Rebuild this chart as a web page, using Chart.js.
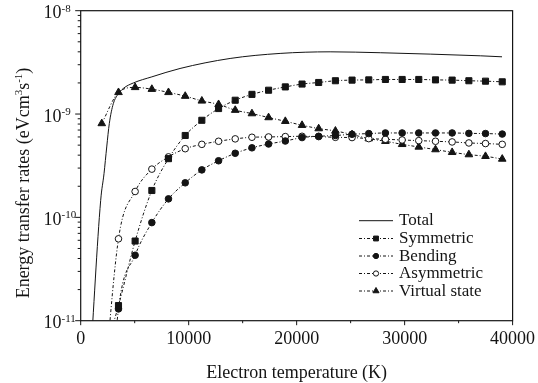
<!DOCTYPE html>
<html>
<head>
<meta charset="utf-8">
<script src="https://cdn.jsdelivr.net/npm/chart.js@4.4.1/dist/chart.umd.min.js"></script>
<style>
  html, body { margin: 0; padding: 0; background: #fff; }
  #wrap { width: 538px; height: 383px; }
</style>
</head>
<body>
<div id="wrap"><canvas id="chart" width="538" height="383"></canvas></div>
<script>
// ---- values (K, eV cm^3 s^-1) ----
const temps = [1950, 3500, 5040, 6590, 8130, 9680, 11220, 12770, 14310, 15860, 17400, 18950, 20500,
               22040, 23590, 25130, 26680, 28220, 29770, 31310, 32860, 34400, 35950, 37490, 39040];
const symmetric = [4e-12, 1.40e-11, 5.9e-11, 1.82e-10, 3.7e-10, 6.2e-10, 8.7e-10, 1.13e-9, 1.36e-9, 1.55e-9,
                   1.70e-9, 1.83e-9, 1.95e-9, 2.02e-9, 2.10e-9, 2.13e-9, 2.14e-9, 2.16e-9, 2.16e-9, 2.16e-9,
                   2.14e-9, 2.13e-9, 2.10e-9, 2.08e-9, 2.05e-9];
const bending = [1e-13, 1.30e-11, 4.3e-11, 8.9e-11, 1.51e-10, 2.16e-10, 2.88e-10, 3.53e-10, 4.17e-10, 4.71e-10,
                 5.13e-10, 5.48e-10, 5.92e-10, 6.09e-10, 6.2e-10, 6.37e-10, 6.47e-10, 6.56e-10, 6.56e-10, 6.56e-10,
                 6.56e-10, 6.56e-10, 6.5e-10, 6.47e-10, 6.4e-10];
const asymmetric = [1.2e-12, 6.2e-11, 1.78e-10, 2.93e-10, 3.85e-10, 4.62e-10, 5.09e-10, 5.45e-10, 5.75e-10, 5.96e-10,
                    6.0e-10, 6.05e-10, 6.09e-10, 6.05e-10, 5.95e-10, 5.92e-10, 5.78e-10, 5.70e-10, 5.61e-10, 5.53e-10,
                    5.45e-10, 5.37e-10, 5.25e-10, 5.18e-10, 5.09e-10];
const virtualState = [8.1e-10, 1.62e-9, 1.81e-9, 1.74e-9, 1.62e-9, 1.49e-9, 1.34e-9, 1.24e-9, 1.09e-9, 1.01e-9,
                      9.25e-10, 8.51e-10, 7.79e-10, 7.23e-10, 6.86e-10, 6.33e-10, 5.78e-10, 5.45e-10, 5.09e-10, 4.80e-10,
                      4.53e-10, 4.26e-10, 4.05e-10, 3.90e-10, 3.67e-10];

const totalTemps = [860, 1850, 2160, 2410, 2650, 3020, 3390, 3950, 4880, 6590, 9200, 13840, 18470, 23100, 27740, 32370, 37010, 39020];
const totalRates = [3.5e-12, 1.46e-10, 2.65e-10, 4.8e-10, 8.1e-10, 1.26e-9, 1.52e-9, 1.77e-9, 2.0e-9, 2.29e-9,
                    2.76e-9, 3.45e-9, 3.86e-9, 4.0e-9, 3.92e-9, 3.80e-9, 3.66e-9, 3.58e-9];

// axis ticks
const xMajorTicks = [0, 10000, 20000, 30000, 40000];
const xMinorTicks = [5000, 15000, 25000, 35000];
const yDecades = [-11, -10, -9, -8];

const INK = '#141414';
const SERIF = "'Liberation Serif', 'Times New Roman', serif";
const DASH = [3, 2, 1, 2];

const xy = (xs, ys) => xs.map((x, i) => ({ x, y: ys[i] }));

const series = [
    { label: 'Total', data: xy(totalTemps, totalRates), dash: [], style: false },
    { label: 'Symmetric', data: xy(temps, symmetric), dash: DASH, style: 'rect', radius: 4.3, fill: INK },
    { label: 'Bending', data: xy(temps, bending), dash: DASH, style: 'circle', radius: 3.3, fill: INK },
    { label: 'Asymmetric', data: xy(temps, asymmetric), dash: DASH, style: 'circle', radius: 3.3, fill: '#fff' },
    { label: 'Virtual state', data: xy(temps, virtualState), dash: DASH, style: 'triangle', radius: 4.4, fill: INK }
];

// ==========================================
// frame, ticks, labels, titles and legend
// ==========================================
const decorPlugin = {
    id: 'decor',
    afterDraw(chart) {
        const { ctx, chartArea: a, scales } = chart;
        const xs = scales.x, ys = scales.y;
        ctx.save();
        ctx.strokeStyle = INK;
        ctx.fillStyle = INK;
        ctx.lineWidth = 1.2;
        ctx.setLineDash([]);
        ctx.strokeRect(a.left, a.top, a.right - a.left, a.bottom - a.top);

        // x ticks (outward)
        ctx.lineWidth = 1;
        ctx.beginPath();
        xMajorTicks.forEach(v => { const p = xs.getPixelForValue(v); ctx.moveTo(p, a.bottom); ctx.lineTo(p, a.bottom + 4.5); });
        xMinorTicks.forEach(v => { const p = xs.getPixelForValue(v); ctx.moveTo(p, a.bottom); ctx.lineTo(p, a.bottom + 2.5); });
        // y ticks (outward, log minors)
        yDecades.forEach(e => {
            const p = ys.getPixelForValue(Math.pow(10, e));
            ctx.moveTo(a.left, p); ctx.lineTo(a.left - 5.5, p);
            if (e < -8) {
                for (let m = 2; m <= 9; m++) {
                    const q = ys.getPixelForValue(m * Math.pow(10, e));
                    ctx.moveTo(a.left, q); ctx.lineTo(a.left - 3, q);
                }
            }
        });
        ctx.stroke();

        // x tick labels
        ctx.font = `18px ${SERIF}`;
        ctx.textAlign = 'center';
        ctx.textBaseline = 'alphabetic';
        xMajorTicks.forEach(v => ctx.fillText(String(v), xs.getPixelForValue(v), a.bottom + 23));

        // y tick labels: 10^e
        yDecades.forEach(e => {
            const p = ys.getPixelForValue(Math.pow(10, e));
            ctx.textAlign = 'left';
            ctx.font = `18px ${SERIF}`;
            ctx.fillText('10', 43.5, p + 7.5);
            ctx.font = `11px ${SERIF}`;
            ctx.fillText(String(e), 61.5, p + 1);
        });

        // x title
        ctx.font = `18px ${SERIF}`;
        ctx.textAlign = 'center';
        ctx.fillText('Electron temperature (K)', (a.left + a.right) / 2, 378);

        // y title (rotated, with superscripts)
        ctx.save();
        ctx.translate(29, 183);
        ctx.rotate(-Math.PI / 2);
        const parts = [
            ['Energy transfer rates (eVcm', 18, 0], ['3', 11, -7], ['s', 18, 0], ['-1', 11, -7], [')', 18, 0]
        ];
        let w = 0;
        parts.forEach(([t, s]) => { ctx.font = `${s}px ${SERIF}`; w += ctx.measureText(t).width; });
        let cx = -w / 2;
        ctx.textAlign = 'left';
        parts.forEach(([t, s, dy]) => {
            ctx.font = `${s}px ${SERIF}`;
            ctx.fillText(t, cx, dy);
            cx += ctx.measureText(t).width;
        });
        ctx.restore();

        // legend
        const rowY = [220.7, 238.5, 256, 273.5, 291];
        ctx.font = `17px ${SERIF}`;
        ctx.textAlign = 'left';
        series.forEach((s, i) => {
            const y = rowY[i];
            ctx.setLineDash(s.dash);
            ctx.lineWidth = 1;
            ctx.beginPath();
            ctx.moveTo(359, y); ctx.lineTo(393, y);
            ctx.stroke();
            ctx.setLineDash([]);
            if (s.style) {
                ctx.fillStyle = s.fill;
                Chart.helpers.drawPoint(ctx, { pointStyle: s.style, radius: s.radius * 0.8, rotation: 0, borderWidth: 1 }, 376, y);
            }
            ctx.fillStyle = INK;
            ctx.fillText(s.label, 399, y + 4.5);
        });
        ctx.restore();
    }
};

new Chart(document.getElementById('chart'), {
    type: 'line',
    data: {
        datasets: series.map(s => ({
            label: s.label,
            data: s.data,
            borderColor: INK,
            borderWidth: 1,
            borderDash: s.dash,
            cubicInterpolationMode: 'monotone',
            tension: 0.4,
            pointStyle: s.style || 'circle',
            pointRadius: s.style ? s.radius : 0,
            pointHoverRadius: s.style ? s.radius : 0,
            pointBackgroundColor: s.fill || INK,
            pointBorderColor: INK,
            pointBorderWidth: 1,
            fill: false
        }))
    },
    options: {
        responsive: false,
        animation: false,
        events: [],
        layout: { padding: { top: 10.7, right: 25.4, left: 0, bottom: 0 } },
        plugins: { legend: { display: false }, tooltip: { enabled: false } },
        scales: {
            x: {
                type: 'linear',
                min: 0,
                max: 40000,
                grid: { display: false, drawTicks: false },
                border: { display: false },
                ticks: { display: false },
                afterFit: (s) => { s.height = 62.3; }
            },
            y: {
                type: 'logarithmic',
                min: 1e-11,
                max: 1e-8,
                grid: { display: false, drawTicks: false },
                border: { display: false },
                ticks: { display: false },
                afterFit: (s) => { s.width = 80.7; }
            }
        }
    },
    plugins: [decorPlugin]
});
</script>
</body>
</html>
